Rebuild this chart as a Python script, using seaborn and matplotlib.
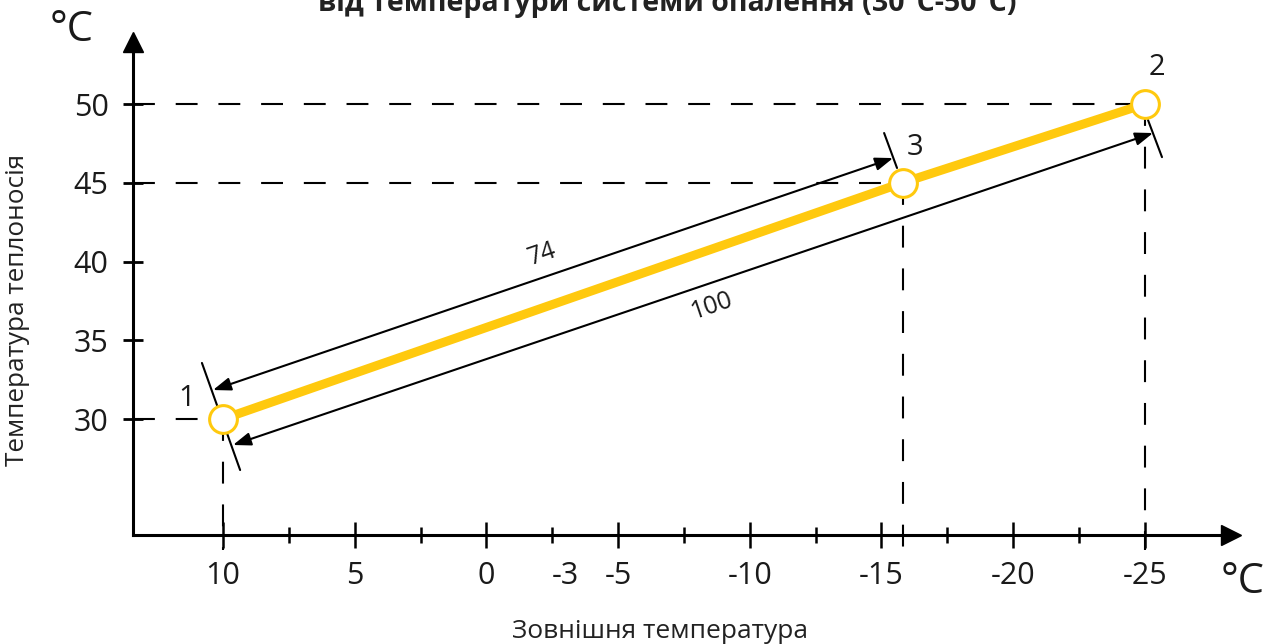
import matplotlib
matplotlib.use("Agg")
import matplotlib.pyplot as plt
import seaborn as sns
import pandas as pd

# точки графіка: зовнішня температура -> температура теплоносія
point_names = ["1", "3", "2"]
outside_t = [10, -15.8, -25]
water_t = [30, 45, 50]

x_major = [10, 5, 0, -3, -5, -10, -15, -20, -25]
x_labels = ["10", "5", "0", "-3", "-5", "-10", "-15", "-20", "-25"]
x_minor = [7.5, 2.5, -2.5, -7.5, -12.5, -17.5, -22.5]
y_major = [30, 35, 40, 45, 50]

# розмірні лінії (74 % та 100 %)
dim_74 = [(10.38, 31.84), (-15.44, 46.57)]
dim_100 = [(9.62, 28.35), (-25.31, 48.16)]
ext_lines = [[(10.8, 33.56), (9.35, 26.76)],
             [(-15.1, 48.16), (-15.59, 45.94)],
             [(-25.12, 48.98), (-25.65, 46.63)]]

sns.set_theme(style="white")
plt.rcParams["font.family"] = ["Open Sans", "DejaVu Sans"]
plt.rcParams["text.color"] = "#1a1a1a"

fig = plt.figure(figsize=(12.67, 6.44), dpi=100)
ax = fig.add_axes([133 / 1267, 109 / 644, 1098 / 1267, 493 / 644])
ax.set_xlim(13.417, -28.27)
ax.set_ylim(22.635, 53.94)

df = pd.DataFrame({"x": outside_t, "y": water_t, "name": point_names})

yellow = "#FFC90E"
dash = (0, (10.5, 10))

# пунктирні лінії до осей
for xv, yv in zip(outside_t, water_t):
    ax.plot([13.417, xv], [yv, yv], color="black", lw=1.5, linestyle=dash, zorder=1)
    ax.plot([xv, xv], [yv, 21.7], color="black", lw=1.5, linestyle=dash,
            zorder=1, clip_on=False)

sns.lineplot(data=df, x="x", y="y", sort=False, color=yellow, lw=6.5, ax=ax, zorder=3)
sns.scatterplot(data=df, x="x", y="y", s=20 ** 2, color="white", edgecolor=yellow,
                linewidth=2.2, ax=ax, zorder=4)

for seg in ext_lines:
    ax.plot([seg[0][0], seg[1][0]], [seg[0][1], seg[1][1]], color="black", lw=1.5, zorder=2)

for (a, b) in (dim_74, dim_100):
    ax.annotate("", xy=b, xytext=a,
                arrowprops=dict(arrowstyle="<|-|>,head_length=0.6,head_width=0.22",
                                mutation_scale=18, color="black", lw=1.5,
                                shrinkA=0, shrinkB=0), zorder=2)

ax.text(-2.11, 40.48, "74", fontsize=18, rotation=18.8, ha="center", va="center")
ax.text(-8.56, 37.17, "100", fontsize=18, rotation=18.8, ha="center", va="center")

label_pos = {"1": (11.37, 31.33), "2": (-25.46, 52.35), "3": (-16.27, 47.21)}
for name, (lx, ly) in label_pos.items():
    ax.text(lx, ly, name, fontsize=21, ha="center", va="center")

# осі
for s in ["top", "right"]:
    ax.spines[s].set_visible(False)
for s in ["left", "bottom"]:
    ax.spines[s].set_linewidth(2.2)
    ax.spines[s].set_color("black")
ax.plot(1, 0, ">", color="black", ms=14, transform=ax.transAxes, clip_on=False)
ax.plot(0, 1, "^", color="black", ms=14, transform=ax.transAxes, clip_on=False)

ax.set_xticks(x_major)
ax.set_xticklabels(x_labels)
ax.set_xticks(x_minor, minor=True)
ax.set_yticks(y_major)
ax.tick_params(axis="x", which="both", bottom=True, color="black")
ax.tick_params(axis="y", left=True, color="black")
ax.tick_params(axis="x", which="major", direction="inout", length=19, width=1.8,
               labelsize=22, pad=9, labelcolor="#1a1a1a")
ax.tick_params(axis="x", which="minor", direction="inout", length=11, width=1.8)
ax.tick_params(axis="y", direction="inout", length=15, width=2, labelsize=22,
               pad=10, labelcolor="#1a1a1a")
ax.xaxis.get_major_ticks()[3].tick1line.set_visible(False)
ax.set_xlabel("")
ax.set_ylabel("")

fig.text(72 / 1267, 1 - 30 / 644, "°C", fontsize=30, ha="center", va="center")
fig.text(1243 / 1267, 1 - 582 / 644, "°C", fontsize=30, ha="center", va="center")
fig.text(18 / 1267, 1 - 310 / 644, "Температура теплоносія", fontsize=18.8,
         rotation=90, ha="center", va="center", color="#222222")
fig.text(660 / 1267, 1 - 631 / 644, "Зовнішня температура", fontsize=19,
         ha="center", va="center", color="#222222")
fig.text(667 / 1267, 1 - 11 / 644, "від температури системи опалення (30°C-50°C)",
         fontsize=20.5, fontweight="bold", ha="center", va="baseline", color="#222222")

fig.savefig("out.png", dpi=100)
